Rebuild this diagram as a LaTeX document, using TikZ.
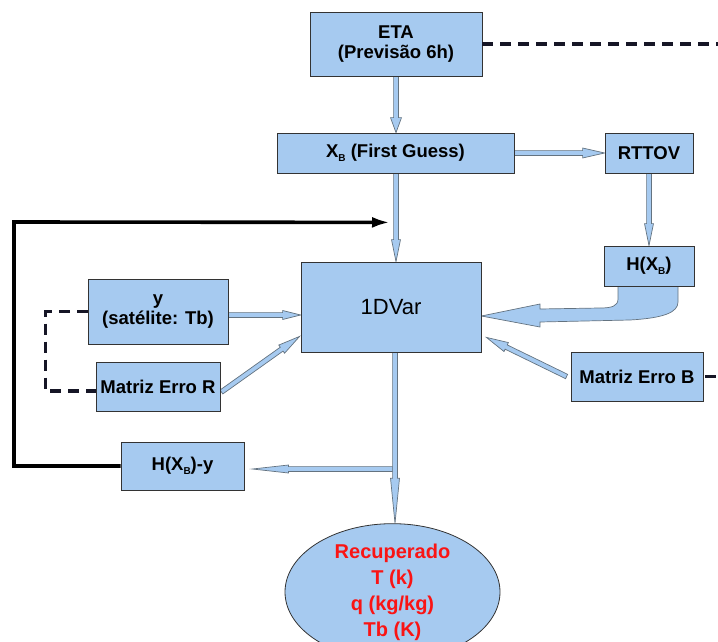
\documentclass[tikz,border=0pt]{standalone}
\usepackage{fontspec}
\setmainfont{Liberation Sans}
\usetikzlibrary{shapes.geometric,calc,arrows.meta,backgrounds}
\definecolor{boxblue}{RGB}{166,202,240}
\definecolor{arrgray}{RGB}{100,115,128}
\definecolor{txtred}{RGB}{250,20,20}
\definecolor{dashcol}{RGB}{22,22,38}
\newcommand\lowb{\raisebox{-0.35ex}{\fontsize{10}{10}\selectfont B}}
\newcommand\shw{2.4pt}
% #1 start, #2 end, #3 head length, #4 head half width
\newcommand\fatarr[4]{%
  \coordinate (fah) at ($(#2)!#3!(#1)$);
  \filldraw[fatarrow] ($(#1)!\shw!90:(#2)$) -- ($(fah)!\shw!-90:(#1)$)
    -- ($(fah)!#4!-90:(#1)$) -- (#2) -- ($(fah)!#4!90:(#1)$)
    -- ($(fah)!\shw!90:(#1)$) -- ($(#1)!\shw!-90:(#2)$) -- cycle;}
\tikzset{
  box/.style={draw=black!80, line width=0.8pt, fill=boxblue, align=center,
    font=\fontsize{18.5}{20}\selectfont\bfseries, inner sep=0pt},
  fatarrow/.style={draw=arrgray, fill=boxblue, line width=0.7pt, line join=miter},
  dashln/.style={draw=dashcol, line width=3.2pt, dash pattern=on 11pt off 7pt},
  loopln/.style={draw=black, line width=3.6pt, -{Latex[length=18pt,width=11pt]}}
}
\begin{document}
\begin{tikzpicture}[x=1pt,y=-1pt]
\useasboundingbox (0,0) rectangle (718,642);
% nodes
\node[box, minimum width=172pt, minimum height=64pt] (eta) at (396,44) {ETA\\(Previsão 6h)};
\node[box, minimum width=237pt, minimum height=40pt] (xb) at (395.5,153) {X\lowb{} (First Guess)};
\node[box, minimum width=88pt, minimum height=40pt] (rttov) at (649,153) {RTTOV};
\node[box, minimum width=90pt, minimum height=40pt] (hxb) at (649,266) {H(X\lowb)};
\node[box, minimum width=180pt, minimum height=90pt, font=\fontsize{22}{24}\selectfont] (dvar) at (391,307) {1DVar};
\node[box, minimum width=140pt, minimum height=65pt] (ysat) at (158,311.5) {y\\(satélite: Tb)};
\node[box, minimum width=124pt, minimum height=49pt] (mr) at (158,386.5) {Matriz Erro R};
\node[box, minimum width=132pt, minimum height=49pt] (mb) at (637,376.5) {Matriz Erro B};
\node[box, minimum width=123pt, minimum height=48pt] (hxy) at (182.5,466) {H(X\lowb)-y};
\node[box, ellipse, minimum width=215pt, minimum height=124pt, text=txtred,
  font=\fontsize{20}{26}\selectfont\bfseries] (rec) at (392.5,592) {Recuperado\\T (k)\\q (kg/kg)\\Tb (K)};
% helper coordinates
\coordinate (etaB) at (eta.south |- xb.north);
\coordinate (xbA) at ($(xb.south)+(0.5,0)$);
\coordinate (xbB) at (xbA |- dvar.north);
\coordinate (rtB) at (rttov.south |- hxb.north);
\coordinate (ysA) at ($(ysat.east)+(0,3.5)$);
\coordinate (ysB) at (ysA -| dvar.west);
\coordinate (mrA) at ($(mr.east)+(1,5.5)$);
\coordinate (mrB) at ($(dvar.south west)+(-1,-16)$);
\coordinate (mbA) at ($(mb.west)+(-4,0)$);
\coordinate (mbB) at ($(dvar.south east)+(5,-15)$);
\coordinate (dvA) at ($(dvar.south)+(4,0)$);
\coordinate (dvB) at (dvA |- rec.north);
\coordinate (brA) at ($(dvA |- hxy.east)+(-2,3)$);
\coordinate (brB) at ($(hxy.east)+(8,3)$);
\coordinate (fb) at ($(xb.south)+(-5.5,49)$);
\coordinate (lc) at (14,222);
\begin{pgfonlayer}{background}
  \fatarr{eta.south}{etaB}{15pt}{5.5pt}
  \fatarr{xbA}{xbB}{22pt}{4.5pt}
  \fatarr{xb.east}{rttov.west}{22pt}{5pt}
  \fatarr{rttov.south}{rtB}{22pt}{4.5pt}
  \fatarr{ysA}{ysB}{18pt}{4.5pt}
  \fatarr{mrA}{mrB}{22pt}{5pt}
  \fatarr{mbA}{mbB}{22pt}{5pt}
  \fatarr{brA}{brB}{36pt}{4pt}
  \fatarr{dvA}{dvB}{45pt}{4.5pt}
  % big curved arrow from H(X_B) to 1DVar
  \draw[fatarrow]
    (618,285) -- (618,299) .. controls (618,306) and (612,308) .. (600,308)
    -- (540,309) -- (540,304) -- (dvar.east |- 0,316) -- (540,327) -- (540,322)
    -- (630,320) .. controls (665,318) and (678,312) .. (678,302) -- (678,285) -- cycle;
\end{pgfonlayer}
% feedback loop
\draw[loopln] (hxy.west) -| (lc) -- (fb);
% dashed lines
\draw[dashln] (eta.east) -- ++(240,0);
\draw[dashln] ($(mb.east)+(2,0)$) -- ++(20,0);
\draw[dashln] (ysat.west) -| ($(mr.west)+(-50,4.5)$) -- ($(mr.west)+(0,4.5)$);
\end{tikzpicture}
\end{document}
